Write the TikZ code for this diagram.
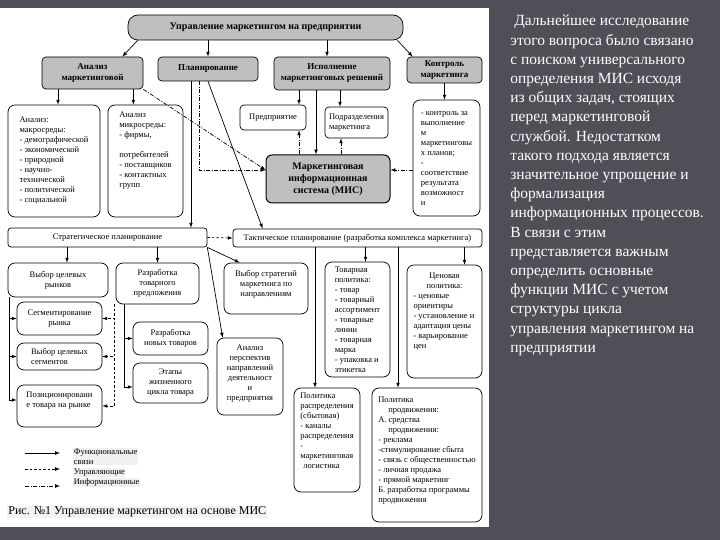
\documentclass[tikz,border=0pt]{standalone}
\usepackage{fontspec}
\setmainfont{Liberation Serif}
\usepackage{tikz}
\usetikzlibrary{calc}

\definecolor{slidebg}{HTML}{4F4F57}
\definecolor{boxgray}{HTML}{BFBFBF}
\newcommand{\padbot}[1]{\rule[-#1]{0pt}{0pt}}
\newcommand{\boxfont}{\fontsize{8.5bp}{10bp}\selectfont}

\begin{document}
\begin{tikzpicture}[x=1bp,y=-1bp,>=latex,line width=0.7bp]
	\tikzstyle{mainbox}=[draw=black,fill=boxgray,rounded corners=4bp,inner sep=2bp,font=\fontsize{9bp}{11bp}\selectfont\bfseries,align=center]
	\tikzstyle{subbox}=[draw=black,fill=white,rounded corners=7bp,inner sep=2bp,font=\boxfont,align=center]
	\tikzstyle{legtext}=[fill=black!6,inner sep=0.5bp,font=\boxfont,align=left]
	\tikzstyle{infoline}=[dash pattern=on 4bp off 1.5bp on 1bp off 1.5bp]
	\tikzstyle{ctrlline}=[dash pattern=on 2.5bp off 2bp]
	% slide and sheet
	\fill[slidebg] (0,0) rectangle (720,540);
	\fill[white] (0,8) rectangle (489,527);
	% top level
	\node[mainbox,rounded corners=10bp,minimum width=275bp,minimum height=25bp,font=\fontsize{10bp}{12bp}\selectfont\bfseries] (top) at (265.5,27.5) {Управление маркетингом на предприятии};
	\node[mainbox,minimum width=101bp,minimum height=32bp] (anal) at (92.5,73) {Анализ\\маркетинговой};
	\node[mainbox,minimum width=100bp,minimum height=24bp] (plan) at (208,69) {Планирование};
	\node[mainbox,minimum width=116bp,minimum height=33bp] (exec) at (332,73.5) {Исполнение\\маркетинговых решений};
	\node[mainbox,minimum width=75bp,minimum height=26bp] (ctrl) at (444.5,70) {Контроль\\маркетинга};
	% analysis
	\node[subbox,align=left,minimum width=92bp,minimum height=112bp] (macro) at (54,161) {Анализ:\\макросреды:\\- демографической\\- экономической\\- природной\\- научно-\\технической\\- политической\\- социальной};
	\node[subbox,align=left,minimum width=75bp,minimum height=112bp] (micro) at (145.5,161) {Анализ\\микросреды:\\- фирмы,\\[10bp]потребителей\\- поставщиков\\- контактных\\групп\padbot{22bp}};
	% execution and MIS
	\node[subbox,rounded corners=4bp,minimum width=66bp,minimum height=25bp] (pred) at (273,117.5) {Предприятие};
	\node[subbox,rounded corners=4bp,align=left,minimum width=63bp,minimum height=31bp] (podr) at (356.5,122.5) {Подразделения\\маркетинга};
	\node[mainbox,rounded corners=6bp,line width=1bp,minimum width=124bp,minimum height=48bp,font=\fontsize{10bp}{12bp}\selectfont\bfseries] (mis) at (328,179) {Маркетинговая\\информационная\\система (МИС)};
	\node[subbox,align=left,minimum width=67bp,minimum height=116bp] (ctrlsub) at (446.5,158) {- контроль за\\выполнение\\м\\маркетинговы\\х планов;\\-\\соответствие\\результата\\возможност\\и};
	% planning
	\node[subbox,rounded corners=3bp,minimum width=199bp,minimum height=19bp] (strat) at (107.5,237.5) {Стратегическое планирование};
	\node[subbox,rounded corners=3bp,minimum width=249bp,minimum height=18bp] (tact) at (357.5,238) {Тактическое планирование (разработка комплекса маркетинга)};
	\node[subbox,minimum width=100bp,minimum height=34bp] (vr) at (58,280) {Выбор целевых\\рынков};
	\node[subbox,minimum width=85bp,minimum height=33bp] (seg) at (59.5,318.5) {Сегментирование\\рынка};
	\node[subbox,align=left,minimum width=85bp,minimum height=27bp] (vsg) at (59.5,356.5) {Выбор целевых\\сегментов};
	\node[subbox,align=left,minimum width=85bp,minimum height=42bp] (poz) at (59.5,406) {Позиционировани\\е товара на рынке\padbot{12bp}};
	\node[subbox,minimum width=83bp,minimum height=41bp] (rtp) at (157.5,283.5) {Разработка\\товарного\\предложения};
	\node[subbox,minimum width=75bp,minimum height=33bp] (nov) at (170.5,338.5) {Разработка\\новых товаров};
	\node[subbox,minimum width=75bp,minimum height=40bp] (etap) at (170.5,383) {Этапы\\жизненного\\цикла товара};
	\node[subbox,minimum width=84bp,minimum height=51bp] (vs) at (266,288.5) {Выбор стратегий\\маркетинга по\\направлениям\padbot{10bp}};
	\node[subbox,minimum width=66bp,minimum height=77bp] (ap) at (250,376.5) {Анализ\\перспектив\\направлений\\деятельност\\и\\предприятия\padbot{8bp}};
	% marketing mix
	\node[subbox,align=left,minimum width=65bp,minimum height=115bp] (tovar) at (357.5,319.5) {Товарная\\политика:\\- товар\\- товарный\\ассортимент\\- товарные\\линии\\- товарная\\марка\\- упаковка и\\этикетка};
	\node[subbox,align=left,minimum width=75bp,minimum height=113bp] (cen) at (444.5,321.5) {\makebox[62bp]{Ценовая}\\\makebox[62bp]{политика:}\\- ценовые\\ориентиры\\- установление и\\адаптация цены\\- варьирование\\цен\padbot{22bp}};
	\node[subbox,align=left,minimum width=66bp,minimum height=104bp] (raspr) at (327,440) {Политика\\распределения\\(сбытовая)\\- каналы\\распределения\\-\\маркетинговая\\\hspace*{3bp}логистика\padbot{18bp}};
	\node[subbox,align=left,minimum width=110bp,minimum height=134bp] (prodv) at (427,455) {Политика\\\hspace*{10bp}продвижения:\\А. средства\\\hspace*{10bp}продвижения:\\- реклама\\-стимулирование сбыта\\- связь с общественностью\\- личная продажа\\- прямой маркетинг\\Б. разработка программы\\продвижения\padbot{10bp}};
	% functional links
	\draw[->] ([xshift=10bp]top.south west) -- ([xshift=-21bp]anal.north east);
	\draw[->] (top.south -| plan.north) -- (plan.north);
	\draw[->] ($(top.south -| exec.north)+(-5,0)$) -- ($(exec.north)+(-5,0)$);
	\draw[->] ([xshift=-6bp]top.south east) -- ([xshift=6bp]ctrl.north west);
	\draw[->] ($(anal.south -| macro.north)+(4,0)$) -- ($(macro.north)+(4,0)$);
	\draw[->] ($(anal.south east)+(-10,0)$) -- ($(anal.south east |- micro.north)+(-10,0)$);
	\draw[->] ($(plan.south)+(-17,0)$) -- ($(plan.south |- strat.north)+(-17,0)$);
	\draw[->] (plan.south) -- ($(tact.north west)+(30,0)$);
	\draw[->] ($(exec.south)+(-33,0)$) -- ($(exec.south |- pred.north)+(-33,0)$);
	\draw[->] ($(exec.south)+(8,0)$) -- ($(exec.south |- podr.north)+(8,0)$);
	\draw[->] ($(exec.south)+(-16,0)$) -- ($(exec.south |- mis.north)+(-16,0)$);
	\draw[->] (ctrl.south) -- (ctrl.south |- ctrlsub.north);
	\draw[->] ($(strat.south -| vr.north)+(9,0)$) -- ($(vr.north)+(9,0)$);
	\draw[->] (strat.south -| rtp.north) -- (rtp.north);
	\draw[->] (strat.south east) -- ($(vs.north west)+(16,0)$);
	\draw[->] (strat.south east) -- ($(ap.north west)+(6,0)$);
	\draw[->] ($(vr.south west)+(2,0)$) |- (seg.west);
	\draw[->] ($(vr.south west)+(2,0)$) |- (vsg.west);
	\draw[->] ($(vr.south west)+(2,0)$) |- ($(poz.west)+(0,-6)$);
	\draw[->] ($(rtp.south west)+(9,0)$) |- (nov.west);
	\draw[->] ($(rtp.south west)+(9,0)$) |- ($(etap.west)+(0,4)$);
	\draw[->] ($(tact.south -| tovar.north)+(8,0)$) -- ($(tovar.north)+(8,0)$);
	\draw[->] ($(tact.south -| cen.north)+(20,0)$) -- ($(cen.north)+(20,0)$);
	\draw[->] ($(tact.south -| raspr.north)+(-12,0)$) -- ($(raspr.north)+(-12,0)$);
	\draw[->] ($(tact.south -| prodv.north)+(-29,0)$) -- ($(prodv.north)+(-29,0)$);
	% control links
	\draw[->,ctrlline] (strat.east) -- (tact.west);
	\draw[->,ctrlline] ($(rtp.south west)+(-1,0)$) |- (seg.east);
	\draw[->,ctrlline] ($(rtp.south west)+(-1,0)$) |- (vsg.east);
	\draw[->,ctrlline] ($(rtp.south west)+(-1,0)$) |- (poz.east);
	% information links
	\draw[->,infoline] ($(plan.south)+(-9,0)$) |- ($(mis.west)+(0,-9)$);
	\draw[->,infoline] (anal.south east) -- ($(mis.west)+(0,-9)$);
	\draw[->,infoline] ($(mis.north)+(-29,0)$) -- ($(mis.north |- pred.south)+(-29,0)$);
	\draw[->,infoline] ($(mis.north)+(13,0)$) -- ($(mis.north |- podr.south)+(13,0)$);
	\draw[->,infoline] ($(mis.east -| ctrlsub.west)+(0,-9)$) -- ($(mis.east)+(0,-9)$);
	% legend
	\coordinate (lgA) at (25,453);
	\coordinate (lgB) at (25,469);
	\coordinate (lgC) at (25,486);
	\node[legtext,anchor=north west] (lgfun) at (73,448) {Функциональные\\связи};
	\node[legtext,anchor=west] (lgupr) at (73,472.5) {Управляющие};
	\node[legtext,anchor=west] (lginf) at (73,482.5) {Информационные};
	\draw[->] (lgA) -- ($(lgA -| lgfun.west)+(-13,0)$);
	\draw[->,ctrlline] (lgB) -- ($(lgB -| lgupr.west)+(-13,0)$);
	\draw[->,infoline] (lgC) -- ($(lgC -| lginf.west)+(-13,0)$);
	\node[anchor=west,fill=black!5,inner sep=1bp,font=\fontsize{12bp}{14bp}\selectfont] (capt) at (7,512) {Рис. №1 Управление маркетингом на основе МИС};
	% slide text
	\node[anchor=north west,inner sep=0pt,text=white,align=left,font=\fontsize{15.5bp}{19.2bp}\selectfont] (slidetext) at (510,15) {\hspace*{4bp}Дальнейшее исследование\\этого вопроса было связано\\с поиском универсального\\определения МИС исходя\\из общих задач, стоящих\\перед маркетинговой\\службой. Недостатком\\такого подхода является\\значительное упрощение и\\формализация\\информационных процессов.\\В связи с этим\\представляется важным\\определить основные\\функции МИС с учетом\\структуры цикла\\управления маркетингом на\\предприятии};
\end{tikzpicture}
\end{document}
